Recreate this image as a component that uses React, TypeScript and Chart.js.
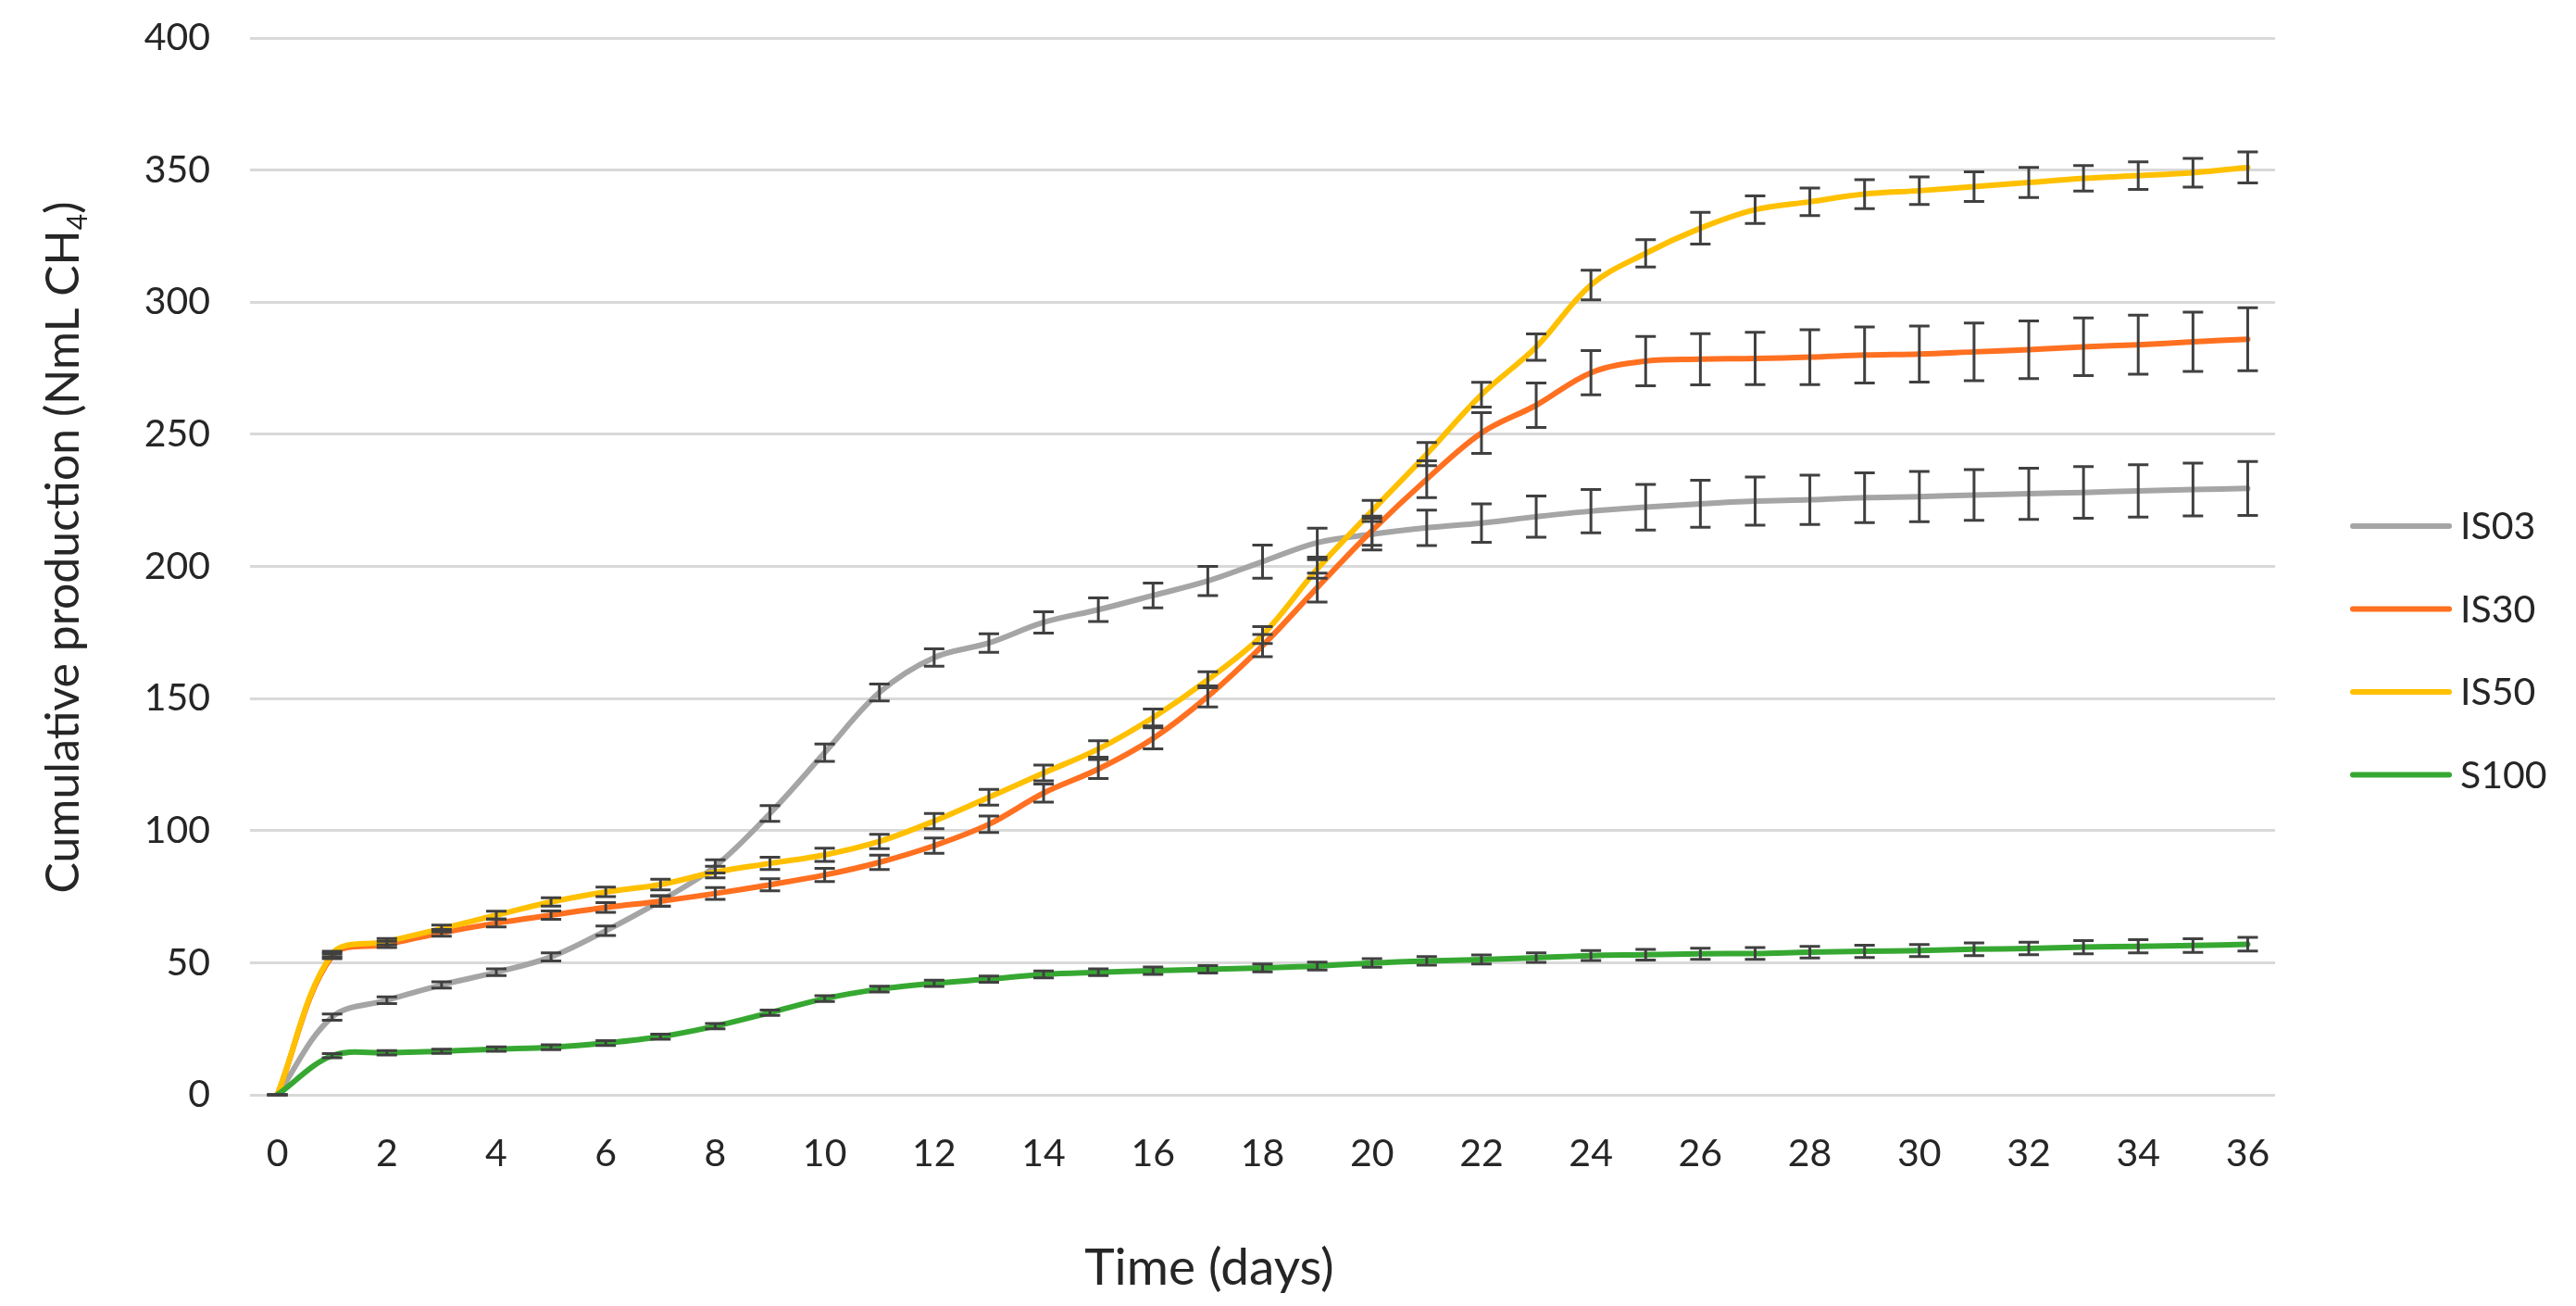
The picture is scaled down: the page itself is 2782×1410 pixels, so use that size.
import { useEffect, useRef } from 'react';
import { Chart, registerables } from 'chart.js';

Chart.register(...registerables);

const days = Array.from({ length: 37 }, (_, i) => String(i));

const is03 = [0, 29.4, 35.8, 41.6, 46.4, 52.2, 62.1, 73.4, 86.5, 106.5, 129.5, 152.3, 165.5, 171, 178.8, 183.6, 189, 194.5, 201.8, 209, 212.2, 214.6, 216.4, 218.8, 220.9, 222.4, 223.7, 224.7, 225.2, 226, 226.4, 227, 227.5, 228, 228.6, 229.1, 229.5];
const is30 = [0, 52.5, 56.9, 61.3, 65, 68, 70.9, 73.3, 76.2, 79.5, 83.2, 88, 94.3, 102.4, 114.2, 123.3, 134.9, 150.8, 170, 192, 213.5, 233, 250.5, 261, 273.3, 277.7, 278.4, 278.7, 279.2, 280, 280.4, 281.2, 282, 283.1, 283.9, 285, 286];
const is50 = [0, 53.3, 58, 62.9, 68, 73, 76.8, 79.6, 84.3, 87.6, 90.8, 95.9, 103.6, 112.6, 121.8, 130.9, 142.8, 157.1, 174, 199, 221, 242.5, 265, 283, 306.5, 318.5, 328, 335, 338, 340.9, 342.2, 343.7, 345.3, 346.9, 347.9, 349, 351];
const s100 = [0, 14.8, 15.9, 16.5, 17.3, 18, 19.6, 22, 26, 31.1, 36.4, 40, 42.2, 43.8, 45.6, 46.4, 47, 47.5, 48, 48.7, 49.9, 50.7, 51.2, 51.9, 52.7, 53, 53.4, 53.5, 54, 54.3, 54.6, 55.1, 55.4, 55.9, 56.2, 56.5, 57];

const is03Err = [0, 1.2, 1.3, 1.2, 1.3, 1.5, 1.8, 2, 2.5, 3, 3.3, 3.2, 3.3, 3.5, 4, 4.5, 4.7, 5.5, 6.3, 5.5, 6, 6.7, 7.3, 7.8, 8.2, 8.6, 8.9, 9.1, 9.3, 9.4, 9.5, 9.6, 9.7, 9.8, 9.9, 10, 10.2];
const is30Err = [0, 1, 1.2, 1.3, 1.5, 1.6, 1.8, 2, 2.2, 2.3, 2.5, 2.7, 2.9, 3.1, 3.4, 3.6, 4, 4, 4.2, 5.5, 5.5, 7, 7.7, 8.4, 8.4, 9.3, 9.7, 9.9, 10.4, 10.6, 10.6, 10.9, 10.9, 10.9, 11.2, 11.2, 11.9];
const is50Err = [0, 1, 1.2, 1.3, 1.5, 1.6, 1.8, 2, 2.2, 2.3, 2.5, 2.7, 2.9, 3, 3, 3.1, 3.2, 3, 3.2, 3.5, 4, 4.4, 4.7, 5, 5.6, 5.2, 6, 5.2, 5.2, 5.5, 5.2, 5.6, 5.7, 4.8, 5.2, 5.4, 5.9];
const s100Err = [0, 0.8, 0.8, 0.8, 0.8, 0.9, 0.9, 1, 1, 1, 1.1, 1.1, 1.2, 1.2, 1.3, 1.3, 1.4, 1.4, 1.5, 1.5, 1.6, 1.6, 1.7, 1.8, 1.9, 2, 2.1, 2.2, 2.2, 2.3, 2.3, 2.4, 2.4, 2.5, 2.5, 2.6, 2.6];

const seriesNames = ['IS03', 'IS30', 'IS50', 'S100'];
const seriesColors = ['#A5A5A5', '#FF7020', '#FFC000', '#36A832'];
const seriesValues = [is03, is30, is50, s100];
const seriesErrors = [is03Err, is30Err, is50Err, s100Err];

const yTicks = [0, 50, 100, 150, 200, 250, 300, 350, 400];
const xTitle = 'Time (days)';
const yTitleMain = 'Cumulative production (NmL CH';
const yTitleSub = '4';
const yTitleEnd = ')';

const FONT = 'Lato';
const TEXT = '#262626';

const W = 2782;
const H = 1410;

const overlayPlugin = {
  id: 'overlay',
  afterDatasetsDraw(chart: any) {
    const ctx = chart.ctx as CanvasRenderingContext2D;
    const yScale = chart.scales.y;
    ctx.save();
    ctx.strokeStyle = '#404040';
    ctx.lineWidth = 3;
    seriesValues.forEach((vals, i) => {
      const meta = chart.getDatasetMeta(i);
      const errs = seriesErrors[i];
      vals.forEach((v, j) => {
        const pt = meta.data[j];
        if (!pt) return;
        const x = pt.x;
        const yt = yScale.getPixelForValue(v + errs[j]);
        const yb = yScale.getPixelForValue(v - errs[j]);
        ctx.beginPath();
        ctx.moveTo(x, yt);
        ctx.lineTo(x, yb);
        ctx.moveTo(x - 11, yt);
        ctx.lineTo(x + 11, yt);
        ctx.moveTo(x - 11, yb);
        ctx.lineTo(x + 11, yb);
        ctx.stroke();
      });
    });
    ctx.restore();
  },
  afterDraw(chart: any) {
    const ctx = chart.ctx as CanvasRenderingContext2D;
    ctx.save();
    ctx.fillStyle = TEXT;
    // x title
    ctx.font = `55px ${FONT}`;
    ctx.textAlign = 'center';
    ctx.textBaseline = 'alphabetic';
    ctx.fillText(xTitle, 1306, 1387);
    // y title (rotated, with subscript)
    ctx.save();
    ctx.translate(85, 591);
    ctx.rotate(-Math.PI / 2);
    ctx.textAlign = 'left';
    ctx.font = `50px ${FONT}`;
    const w1 = ctx.measureText(yTitleMain).width;
    const w3 = ctx.measureText(yTitleEnd).width;
    ctx.font = `30px ${FONT}`;
    const w2 = ctx.measureText(yTitleSub).width;
    let x = -(w1 + w2 + w3) / 2;
    ctx.font = `50px ${FONT}`;
    ctx.fillText(yTitleMain, x, 0);
    x += w1;
    ctx.font = `30px ${FONT}`;
    ctx.fillText(yTitleSub, x, 9);
    x += w2;
    ctx.font = `50px ${FONT}`;
    ctx.fillText(yTitleEnd, x, 0);
    ctx.restore();
    // legend
    ctx.font = `41px ${FONT}`;
    ctx.textAlign = 'left';
    ctx.textBaseline = 'middle';
    seriesNames.forEach((name, i) => {
      const y = 568 + i * 89.5;
      ctx.strokeStyle = seriesColors[i];
      ctx.lineWidth = 6;
      ctx.lineCap = 'round';
      ctx.beginPath();
      ctx.moveTo(2541, y);
      ctx.lineTo(2645, y);
      ctx.stroke();
      ctx.fillStyle = TEXT;
      ctx.fillText(name, 2657, y + 1);
    });
    ctx.restore();
  },
};

export default function App() {
  const ref = useRef<HTMLCanvasElement | null>(null);
  useEffect(() => {
    document.body.style.margin = '0';
    document.body.style.overflow = 'hidden';
    const canvas = ref.current;
    if (!canvas) return;
    const chart = new Chart(canvas, {
      type: 'line',
      data: {
        labels: days,
        datasets: seriesNames.map((name, i) => ({
          label: name,
          data: seriesValues[i],
          borderColor: seriesColors[i],
          backgroundColor: seriesColors[i],
          borderWidth: 6,
          pointRadius: 0,
          tension: 0.35,
          fill: false,
          order: 4 - i,
          borderCapStyle: 'round' as const,
          borderJoinStyle: 'round' as const,
        })),
      },
      options: {
        responsive: false,
        animation: false,
        devicePixelRatio: 1,
        layout: { padding: { top: 41, right: 325, left: 0, bottom: 0 } },
        plugins: {
          legend: { display: false },
          tooltip: { enabled: false },
          title: { display: false },
        },
        scales: {
          x: {
            type: 'category',
            offset: true,
            grid: { display: false, drawTicks: false },
            border: { display: false },
            ticks: {
              autoSkip: false,
              maxRotation: 0,
              minRotation: 0,
              padding: 39,
              color: TEXT,
              font: { family: FONT, size: 41 },
              callback: (_v: any, idx: number) => (idx % 2 === 0 ? days[idx] : ''),
            },
            afterFit: (scale: any) => {
              scale.height = H - 1182;
              scale.paddingLeft = 0;
              scale.paddingRight = 0;
            },
          },
          y: {
            min: 0,
            max: 400,
            afterBuildTicks: (scale: any) => {
              scale.ticks = yTicks.map((v) => ({ value: v }));
            },
            grid: { color: '#D9D9D9', lineWidth: 3, drawTicks: false },
            border: { display: false },
            ticks: {
              padding: 43,
              color: TEXT,
              font: { family: FONT, size: 41 },
            },
            afterFit: (scale: any) => {
              scale.width = 270;
              scale.paddingTop = 0;
              scale.paddingBottom = 0;
            },
          },
        },
      },
      plugins: [overlayPlugin],
    });
    return () => chart.destroy();
  }, []);
  return (
    <div style={{ width: W, height: H, background: '#fff' }}>
      <canvas ref={ref} width={W} height={H} style={{ width: W, height: H, display: 'block' }} />
    </div>
  );
}
